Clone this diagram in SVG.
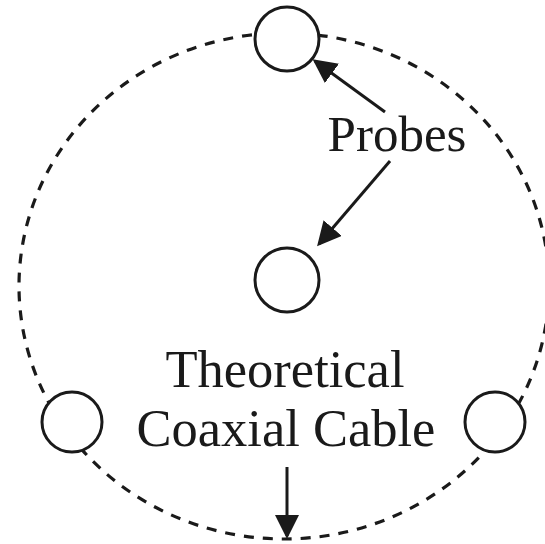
<svg xmlns="http://www.w3.org/2000/svg" width="545" height="544" viewBox="0 0 545 544">
<style>
.probe{fill:#ffffff;stroke:#1a1a1a;stroke-width:3}
.ring{fill:none;stroke:#1a1a1a;stroke-width:3.2;stroke-dasharray:10 9}
.conn{stroke:#1a1a1a;stroke-width:3;fill:none}
text{font-family:"Liberation Serif","Times New Roman",serif;fill:#1a1a1a;text-anchor:middle}
</style>
<defs>
<marker id="ah" markerWidth="8" markerHeight="8" refX="7" refY="4" orient="auto" markerUnits="strokeWidth">
<path d="M0,0 L8,4 L0,8 Z" fill="#1a1a1a"/>
</marker>
</defs>
<rect width="545" height="544" fill="#ffffff"/>
<ellipse id="boundary" class="ring" cx="284" cy="286" rx="265" ry="253"/>
<g id="probe-top"><circle class="probe" cx="287" cy="39" r="32"/></g>
<g id="probe-center"><circle class="probe" cx="287" cy="280" r="32"/></g>
<g id="probe-left"><circle class="probe" cx="72" cy="422" r="30"/></g>
<g id="probe-right"><circle class="probe" cx="495" cy="422" r="30"/></g>
<g id="labels">
<text x="397" y="151" font-size="51">Probes</text>
<text x="285" y="387" font-size="52.5">Theoretical</text>
<text x="286" y="446" font-size="52.5">Coaxial Cable</text>
</g>
<g id="connectors">
<line class="conn" x1="385" y1="112" x2="315" y2="61" marker-end="url(#ah)"/>
<line class="conn" x1="390" y1="161" x2="319" y2="244" marker-end="url(#ah)"/>
<line class="conn" x1="287" y1="467" x2="287" y2="536" marker-end="url(#ah)"/>
</g>
</svg>
